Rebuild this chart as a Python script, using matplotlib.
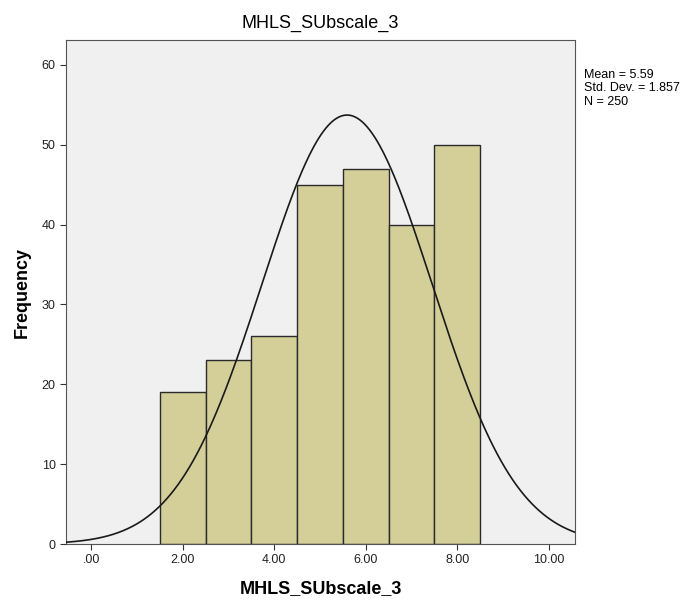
import numpy as np
import matplotlib.pyplot as plt

plt.rcParams['font.family'] = ['Liberation Sans', 'DejaVu Sans']

# histogram data
bin_centers = [2, 3, 4, 5, 6, 7, 8]
counts = [19, 23, 26, 45, 47, 40, 50]
mean = 5.59
std = 1.857
n = 250
bin_width = 1.0

fig = plt.figure(figsize=(6.89, 6.01), dpi=100)
ax = fig.add_axes([0.0958, 0.0948, 0.7387, 0.8386])
ax.set_facecolor('#f0f0f0')

ax.bar(bin_centers, counts, width=bin_width, color='#d4cf99',
       edgecolor='#2b2b2b', linewidth=1.0, zorder=2)

# normal curve scaled to the histogram
xs = np.linspace(-0.55, 10.57, 400)
ys = n * bin_width / (std * np.sqrt(2 * np.pi)) * np.exp(-0.5 * ((xs - mean) / std) ** 2)
ax.plot(xs, ys, color='#1a1a1a', linewidth=1.2, zorder=3)

ax.set_xlim(-0.55, 10.57)
ax.set_ylim(0, 63.1)
ax.set_xticks([0, 2, 4, 6, 8, 10])
ax.set_xticklabels(['.00', '2.00', '4.00', '6.00', '8.00', '10.00'])
ax.set_yticks([0, 10, 20, 30, 40, 50, 60])
ax.tick_params(labelsize=9, length=4, color='#333333', labelcolor='#222222')
for s in ax.spines.values():
    s.set_color('#555555')

ax.set_xlabel('MHLS_SUbscale_3', fontsize=13, fontweight='bold', labelpad=10)
ax.set_ylabel('Frequency', fontsize=13, fontweight='bold', labelpad=8)
ax.set_title('MHLS_SUbscale_3', fontsize=13, pad=9)

fig.text(0.847, 0.886, 'Mean = 5.59\nStd. Dev. = 1.857\nN = 250',
         fontsize=9, va='top', ha='left', linespacing=1.22)

fig.savefig('out.png', dpi=100)
